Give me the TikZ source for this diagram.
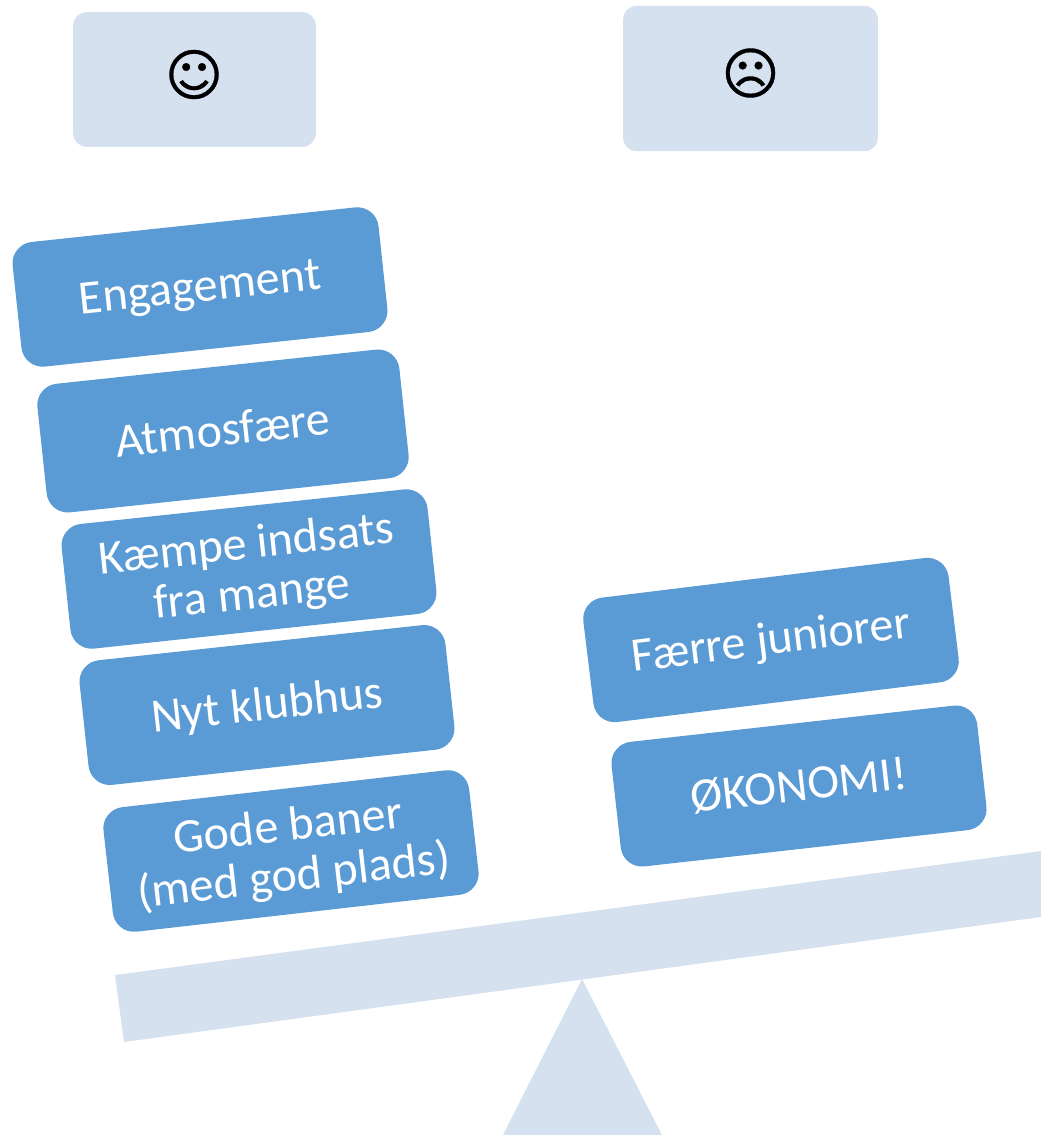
\documentclass[tikz,border=0pt]{standalone}
\usepackage{fontspec}
\setmainfont{Carlito}
\newfontfamily\symfont[RawFeature={embolden=0.6}]{DejaVu Sans}
\definecolor{pale}{HTML}{D6E1EF}
\definecolor{cardblue}{HTML}{5B9BD5}
\newcommand\cardtext[1]{\raisebox{-3.5pt}[\height][\depth]{\begin{tabular}{@{}c@{}}#1\end{tabular}}}
\tikzset{
  px/.style={x=0.75pt,y=-0.75pt},
  header/.style={fill=pale,rounded corners=10pt,inner sep=0,outer sep=0,anchor=center},
  card/.style={fill=cardblue,text=white,rounded corners=16pt,minimum width=276pt,minimum height=94pt,
    inner sep=0,outer sep=0,align=center,font=\fontsize{36}{37.5}\selectfont},
  face/.style={font=\symfont\fontsize{42}{42}\selectfont,text=black,inner sep=0},
  paleshape/.style={fill=pale,draw=none}
}
\begin{document}
\begin{tikzpicture}[px]
\useasboundingbox (0,0) rectangle (1041,1135);
\node[header,minimum width=182pt,minimum height=101pt] (goodhead) at (194.5,79.5) {};
\node[header,minimum width=191pt,minimum height=109pt] (badhead) at (750.5,78.5) {};
\node[face] (goodface) at (194,74.5) {☺};
\node[face] (badface) at (750.5,73) {☹};
\node[card,rotate=6.1] (c1) at (200,287) {\cardtext{Engagement}};
\node[card,rotate=6.1,minimum height=97pt,minimum width=273pt] (c2) at (223,431) {\cardtext{Atmosfære}};
\node[card,rotate=6.1] (c3) at (249,569) {\cardtext{Kæmpe indsats\\fra mange}};
\node[card,rotate=6.2] (c4) at (267,705) {\cardtext{Nyt klubhus}};
\node[card,rotate=6.5] (c5) at (291,851) {\cardtext{Gode baner\\(med god plads)}};
\node[card,rotate=7] (c6) at (771,640) {\cardtext{Færre juniorer}};
\node[card,rotate=6.4] (c7) at (799,786) {\cardtext{ØKONOMI!}};
\path[paleshape] (115,975) -- (1041,851) -- (1041,917) -- (124,1042) -- cycle;
\path[paleshape] (582,979) -- (662,1135) -- (503,1135) -- cycle;
\end{tikzpicture}
\end{document}
